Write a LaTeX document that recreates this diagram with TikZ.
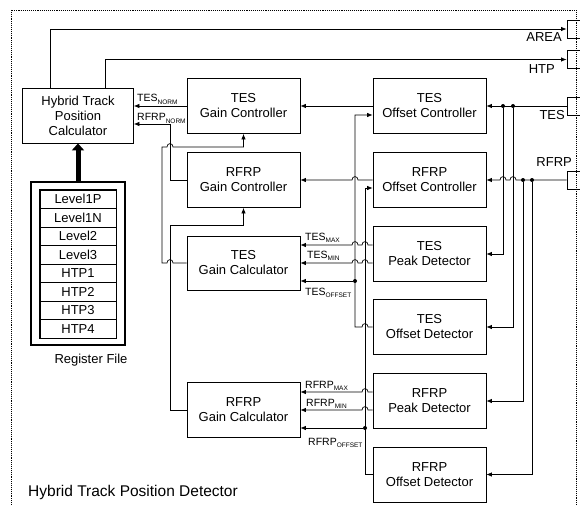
\documentclass[tikz,border=0pt]{standalone}
\usepackage{fontspec}
\setmainfont{Liberation Sans}
\usepackage{tikz}
\usetikzlibrary{arrows.meta}
\usetikzlibrary{positioning}
\newcommand{\sigsub}[1]{\raisebox{-2.6pt}{\fontsize{6.5}{7}\selectfont #1}}

\begin{document}
\begin{tikzpicture}[x=1pt,y=-1pt,
 blockbox/.style={draw,line width=0.8pt,minimum width=113pt,minimum height=55pt,align=center,inner sep=0pt,font=\fontsize{13}{15}\selectfont},
 sig/.style={line width=0.7pt,-{Latex[length=5.5pt,width=4.5pt]}},
 wire/.style={line width=0.7pt},
 junc/.style={circle,fill,inner sep=0pt,minimum size=4pt},
 portbox/.style={draw,line width=0.9pt,minimum width=16pt,minimum height=18pt,inner sep=0pt},
 sublbl/.style={font=\fontsize{10.5}{12}\selectfont,inner sep=0pt,anchor=base west},
 extlbl/.style={font=\fontsize{13}{15}\selectfont,inner sep=0pt,anchor=base east},
 regrow/.style={draw,line width=0.7pt,minimum width=76pt,minimum height=18.5pt,inner sep=0pt,font=\fontsize{13}{15}\selectfont}]
\useasboundingbox (0,0) rectangle (580,505);
\draw[densely dotted,line width=0.9pt] (11,10) rectangle (576,507);

\node[blockbox] (htpc) at (78,115.5) [minimum width=111pt] {Hybrid Track\\Position\\Calculator};
\node[blockbox] (tesGC) at (243.5,106) {TES\\Gain Controller};
\node[blockbox] (rfrpGC) at (243.5,180) {RFRP\\Gain Controller};
\node[blockbox] (tesGcal) at (243.5,263) [minimum height=54pt] {TES\\Gain Calculator};
\node[blockbox] (rfrpGcal) at (243.5,410) {RFRP\\Gain Calculator};
\node[blockbox] (tesOC) at (429.5,106) {TES\\Offset Controller};
\node[blockbox] (rfrpOC) at (429.5,180) {RFRP\\Offset Controller};
\node[blockbox] (tesPD) at (429.5,254) {TES\\Peak Detector};
\node[blockbox] (tesOD) at (429.5,327) {TES\\Offset Detector};
\node[blockbox] (rfrpPD) at (429.5,401) {RFRP\\Peak Detector};
\node[blockbox] (rfrpOD) at (429.5,474.5) {RFRP\\Offset Detector};

\node[portbox] (pArea) at (575,29) {};
\node[portbox] (pHtp) at (575,59.5) {};
\node[portbox] (pTes) at (575,106) {};
\node[portbox] (pRfrp) at (575,180) {};
\node[extlbl] (lArea) at (562,42) {AREA};
\node[extlbl] (lHtp) at (555,74) {HTP};
\node[extlbl] (lTes) at (565,120) {TES};
\node[extlbl] (lRfrp) at (572,166) {RFRP};

\node[draw,line width=2.2pt,minimum width=94pt,minimum height=163pt] (regfile) at (78,263.5) {};
\foreach \regname [count=\i] in {Level1P,Level1N,Level2,Level3,HTP1,HTP2,HTP3,HTP4}
  \node[regrow] (reg\i) at (78,{180.75+18.5*\i}) {\regname};
\draw[line width=1.6pt] (reg1.north west) rectangle (reg8.south east);
\node[below=8pt of regfile.south,xshift=13pt,inner sep=0pt,font=\fontsize{13}{15}\selectfont] (regcap) {Register File};
\draw[line width=5pt,-{Triangle[length=7pt,width=12pt]}] (regfile.north) -- (htpc.south);

\draw[sig] ([xshift=28pt]htpc.north west) |- (pArea.west);
\draw[sig] ([xshift=83pt]htpc.north west) |- (pHtp.west);

\node[junc] (jT1) at (503,106) {};
\node[junc] (jT2) at (513,106) {};
\node[junc] (jR1) at (523,180) {};
\node[junc] (jR2) at (532,180) {};
\node[junc] (jTo) at (355,281) {};
\node[junc] (jRo) at (365,428) {};

\draw[sig] (pTes.west) -- (tesOC.east);
\draw[sig] (jT1) |- (tesPD.east);
\draw[sig] (jT2) |- (tesOD.east);
\draw[sig] (pRfrp.west) -- (516,180) .. controls (516,175.5) and (510,175.5) .. (510,180) -- (506,180) .. controls (506,175.5) and (500,175.5) .. (500,180) -- (rfrpOC.east);
\draw[sig] (jR1) |- (rfrpPD.east);
\draw[sig] (jR2) |- (rfrpOD.east);

\draw[sig] (tesOC.west) -- (tesGC.east);
\draw[sig] (rfrpOC.west) -- (358,180) .. controls (358,175.5) and (352,175.5) .. (352,180) -- (rfrpGC.east);

\draw[sig] (tesOD.west) -- (368,327) .. controls (368,322.5) and (362,322.5) .. (362,327) -- (355,327) -- (355,115) -- ([yshift=-9pt]tesOC.west);
\draw[sig] (jTo) -- ([yshift=-18pt]tesGcal.east);
\draw[sig] (rfrpOD.west) -- (365,474.5) -- (365,188) -- ([yshift=-8pt]rfrpOC.west);
\draw[sig] (jRo) -- ([yshift=-18pt]rfrpGcal.east);

\draw[sig] ([yshift=9pt]tesPD.west) -- (368,245) .. controls (368,240.5) and (362,240.5) .. (362,245) -- (358,245) .. controls (358,240.5) and (352,240.5) .. (352,245) -- ([yshift=18pt]tesGcal.east);
\draw[sig] ([yshift=-9pt]tesPD.west) -- (368,263) .. controls (368,258.5) and (362,258.5) .. (362,263) -- (358,263) .. controls (358,258.5) and (352,258.5) .. (352,263) -- (tesGcal.east);
\draw[sig] ([yshift=9pt]rfrpPD.west) -- (368,392) .. controls (368,387.5) and (362,387.5) .. (362,392) -- ([yshift=18pt]rfrpGcal.east);
\draw[sig] ([yshift=-9pt]rfrpPD.west) -- (368,410) .. controls (368,405.5) and (362,405.5) .. (362,410) -- (rfrpGcal.east);

\draw[sig] (tesGcal.west) -- (173,263) .. controls (173,258.5) and (167,258.5) .. (167,263) -- (162,263) -- (162,147) -- (167,147) .. controls (167,142.5) and (173,142.5) .. (173,147) -- (243.5,147) -- (tesGC.south);
\draw[sig] (rfrpGcal.west) -- (170,410) -- (170,225) -- (243.5,225) -- (rfrpGC.south);

\coordinate (rnorm) at (170,124);
\draw[sig] (tesGC.west) -- (tesGC.west -| htpc.east);
\draw[sig] (rfrpGC.west) -- (170,180) -- (rnorm) -- (rnorm -| htpc.east);

\node[sublbl] (lTesNorm) at (137,102) {TES\sigsub{NORM}};
\node[sublbl] (lRfrpNorm) at (137,121) {RFRP\sigsub{NORM}};
\node[sublbl] (lTesMax) at (305,240) {TES\sigsub{MAX}};
\node[sublbl] (lTesMin) at (307,258) {TES\sigsub{MIN}};
\node[sublbl] (lTesOff) at (305,295) {TES\sigsub{OFFSET}};
\node[sublbl] (lRfrpMax) at (305,388) {RFRP\sigsub{MAX}};
\node[sublbl] (lRfrpMin) at (306,406) {RFRP\sigsub{MIN}};
\node[sublbl] (lRfrpOff) at (308,445) {RFRP\sigsub{OFFSET}};

\node[anchor=base west,inner sep=0pt,font=\fontsize{15.5}{18}\selectfont] (title) at (28,496) {Hybrid Track Position Detector};
\end{tikzpicture}
\end{document}
